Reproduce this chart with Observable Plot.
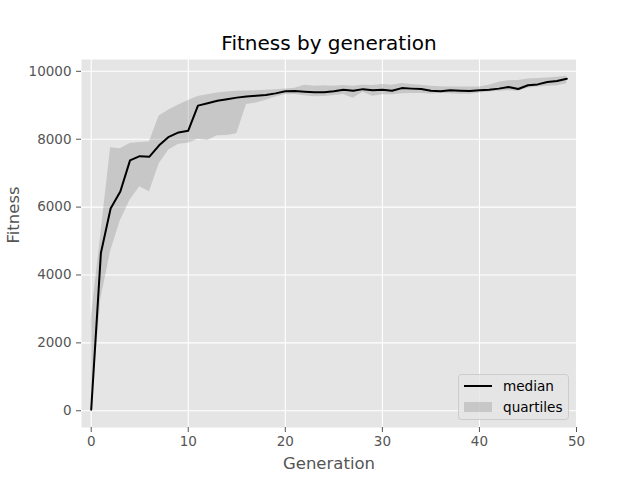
<!DOCTYPE html>
<html>
<head>
<meta charset="utf-8">
<script src="https://cdn.jsdelivr.net/npm/d3@7"></script>
<script src="https://cdn.jsdelivr.net/npm/@observablehq/plot@0.6"></script>
<style>
  html, body { margin: 0; padding: 0; background: #fff; }
  #chart svg { display: block; }
</style>
</head>
<body>
<div id="chart"></div>
<script>
const generations = d3.range(0, 50);
const medianFitness = [
  30, 4650, 5960, 6460, 7375, 7500, 7485, 7820, 8070, 8200,
  8250, 8990, 9060, 9130, 9180, 9225, 9260, 9280, 9300, 9350,
  9410, 9420, 9400, 9385, 9380, 9410, 9460, 9425, 9475, 9440,
  9460, 9425, 9505, 9490, 9480, 9425, 9410, 9440, 9430, 9420,
  9440, 9460, 9490, 9540, 9480, 9590, 9615, 9685, 9715, 9780
];
const upperQuartile = [
  2700, 5220, 7745, 7720, 7870, 7900, 7920, 8680, 8860, 9010,
  9140, 9260, 9310, 9360, 9390, 9410, 9420, 9425, 9440, 9460,
  9480, 9500, 9590, 9560, 9575, 9560, 9580, 9560, 9590, 9580,
  9610, 9590, 9640, 9610, 9590, 9560, 9545, 9540, 9535, 9540,
  9540, 9590, 9680, 9725, 9730, 9770, 9790, 9800, 9825, 9855
];
const lowerQuartile = [
  0, 3300, 4700, 5600, 6200, 6600, 6450, 7280, 7680, 7850,
  7880, 8000, 7960, 8100, 8110, 8160, 9020, 9070, 9150, 9245,
  9310, 9315, 9280, 9250, 9255, 9285, 9315, 9210, 9380, 9265,
  9310, 9310, 9340, 9345, 9345, 9330, 9350, 9340, 9325, 9325,
  9360, 9390, 9410, 9430, 9415, 9500, 9540, 9560, 9575, 9635
];
const xTicks = [0, 10, 20, 30, 40, 50];
const yTicks = [0, 2000, 4000, 6000, 8000, 10000];
const titleText = "Fitness by generation";
const xLabel = "Generation";
const yLabel = "Fitness";
const legendLabels = ["median", "quartiles"];

const data = generations.map((g, i) => ({
  g, median: medianFitness[i], q1: lowerQuartile[i], q3: upperQuartile[i]
}));

const font = "DejaVu Sans, sans-serif";
const axisColor = "#555555";

const chart = Plot.plot({
  width: 640,
  height: 480,
  marginLeft: 81,
  marginRight: 64,
  marginTop: 59,
  marginBottom: 53,
  style: { fontFamily: font, background: "#ffffff", overflow: "visible" },
  x: { domain: [-1, 50] },
  y: { domain: [-493, 10348] },
  marks: [
    Plot.frame({ fill: "#E5E5E5", stroke: "none" }),
    Plot.gridX(xTicks, { stroke: "#ffffff", strokeOpacity: 1, strokeWidth: 1.1 }),
    Plot.gridY(yTicks, { stroke: "#ffffff", strokeOpacity: 1, strokeWidth: 1.1 }),
    Plot.areaY(data, { x: "g", y1: "q1", y2: "q3", fill: "gray", fillOpacity: 0.3 }),
    Plot.lineY(data, { x: "g", y: "median", stroke: "black", strokeWidth: 2 }),
    Plot.axisX(xTicks, {
      tickSize: 5, tickPadding: 4, stroke: axisColor, fill: axisColor,
      fontSize: 13.5, label: null
    }),
    Plot.axisY(yTicks, {
      tickSize: 5, tickPadding: 5, stroke: axisColor, fill: axisColor,
      fontSize: 13.5, label: null, tickFormat: d => String(d)
    }),
    Plot.text([titleText], {
      frameAnchor: "top", lineAnchor: "middle", dy: -16, fontSize: 20, fill: "black", text: d => d
    }),
    Plot.text([xLabel], {
      frameAnchor: "bottom", lineAnchor: "middle", dy: 36, fontSize: 16.5, fill: axisColor, text: d => d
    }),
    Plot.text([yLabel], {
      frameAnchor: "left", lineAnchor: "middle", dx: -68, rotate: -90, fontSize: 16.5, fill: axisColor, text: d => d
    })
  ]
});

// Legend (lower right, inside axes)
const svg = d3.select(chart);
const lg = svg.append("g").attr("font-family", font).attr("font-size", 13.6).attr("text-anchor", "start");
lg.append("rect")
  .attr("x", 458.5).attr("y", 374.5).attr("width", 110).attr("height", 45)
  .attr("rx", 3).attr("ry", 3)
  .attr("fill", "#E5E5E5").attr("fill-opacity", 0.8)
  .attr("stroke", "#cccccc").attr("stroke-width", 1);
lg.append("line")
  .attr("x1", 464).attr("x2", 492).attr("y1", 386).attr("y2", 386)
  .attr("stroke", "black").attr("stroke-width", 2);
lg.append("text").attr("x", 503).attr("y", 386).attr("dy", "0.35em")
  .attr("fill", "black").text(legendLabels[0]);
lg.append("rect")
  .attr("x", 464).attr("y", 402).attr("width", 28).attr("height", 10)
  .attr("fill", "gray").attr("fill-opacity", 0.3);
lg.append("text").attr("x", 503).attr("y", 407).attr("dy", "0.35em")
  .attr("fill", "black").text(legendLabels[1]);

document.getElementById("chart").appendChild(chart);
</script>
</body>
</html>
